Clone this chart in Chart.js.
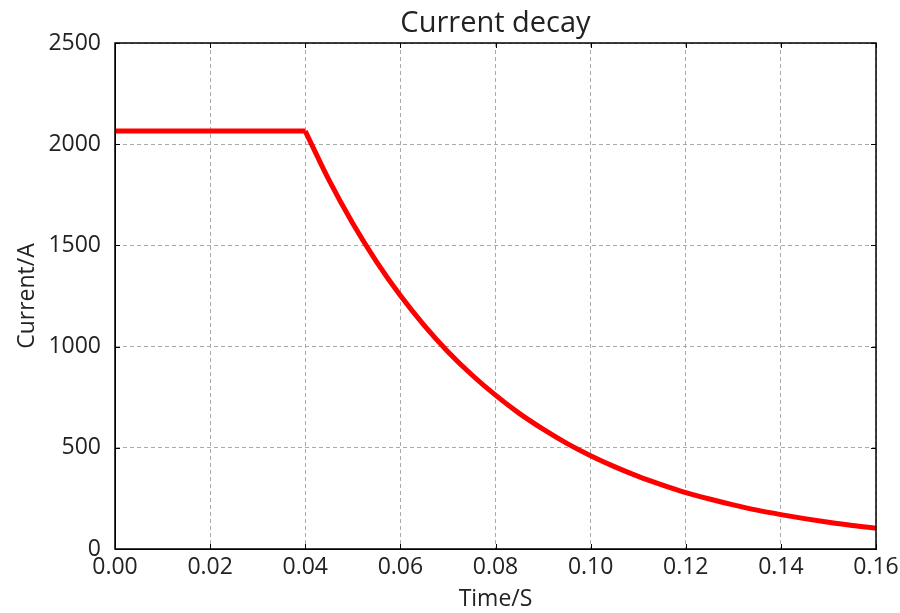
<!DOCTYPE html>
<html>
<head>
<meta charset="utf-8">
<script src="https://cdn.jsdelivr.net/npm/chart.js@4.4.1/dist/chart.umd.min.js"></script>
<style>
  html, body { margin: 0; padding: 0; background: #ffffff; }
  #wrap { width: 900px; height: 613px; }
</style>
</head>
<body>
<div id="wrap"><canvas id="c" width="900" height="613"></canvas></div>
<script>
// Values
const flatTime = [0, 0.01, 0.02, 0.03, 0.04];
const flatCurrent = [2065, 2065, 2065, 2065, 2065];
const decayTime = [0.04, 0.045, 0.05, 0.055, 0.06, 0.065, 0.07, 0.075, 0.08,
  0.085, 0.09, 0.095, 0.10, 0.105, 0.11, 0.115, 0.12, 0.125, 0.13, 0.135, 0.14, 0.145, 0.15, 0.155, 0.16];
const decayCurrent = [2065, 1822, 1608, 1419, 1252, 1105, 975, 861, 760,
  670, 592, 522, 461, 407, 359, 317, 279, 247, 218, 192, 170, 150, 132, 116, 103];
const xTicks = [0, 0.02, 0.04, 0.06, 0.08, 0.10, 0.12, 0.14, 0.16];
const yTicks = [0, 500, 1000, 1500, 2000, 2500];

const titleText = 'Current decay';
const xLabel = 'Time/S';
const yLabel = 'Current/A';

const FONT = '"Open Sans", "DejaVu Sans", sans-serif';
Chart.defaults.font.family = FONT;
Chart.defaults.color = '#222222';

const toPts = (xs, ys) => xs.map((t, i) => ({ x: t, y: ys[i] }));

const frame = {
  id: 'frame',
  afterDraw(chart) {
    const { ctx, chartArea: a, scales } = chart;
    ctx.save();
    ctx.strokeStyle = '#000000';
    ctx.lineWidth = 1;
    const L = 5;
    ctx.beginPath();
    xTicks.forEach(v => {
      const px = Math.round(scales.x.getPixelForValue(v)) + 0.5;
      ctx.moveTo(px, a.bottom); ctx.lineTo(px, a.bottom - L);
      ctx.moveTo(px, a.top); ctx.lineTo(px, a.top + L);
    });
    yTicks.forEach(v => {
      const py = Math.round(scales.y.getPixelForValue(v)) + 0.5;
      ctx.moveTo(a.left, py); ctx.lineTo(a.left + L, py);
      ctx.moveTo(a.right, py); ctx.lineTo(a.right - L, py);
    });
    ctx.stroke();
    ctx.lineWidth = 1.5;
    ctx.strokeRect(a.left, a.top, a.right - a.left, a.bottom - a.top);
    // title centred over the plot area
    ctx.fillStyle = '#222222';
    ctx.font = '29px ' + FONT;
    ctx.textAlign = 'center';
    ctx.textBaseline = 'alphabetic';
    ctx.fillText(titleText, (a.left + a.right) / 2, 32);
    ctx.restore();
  }
};

new Chart(document.getElementById('c'), {
  type: 'line',
  data: {
    datasets: [{
      data: toPts(flatTime, flatCurrent),
      borderColor: '#ff0000',
      borderWidth: 5,
      pointRadius: 0,
      tension: 0,
      fill: false
    }, {
      data: toPts(decayTime, decayCurrent),
      borderColor: '#ff0000',
      borderWidth: 5,
      pointRadius: 0,
      cubicInterpolationMode: 'monotone',
      fill: false
    }]
  },
  options: {
    responsive: false,
    animation: false,
    layout: { padding: { left: 0, right: 24, top: 43, bottom: 0 } },
    plugins: {
      legend: { display: false },
      tooltip: { enabled: false },
      title: { display: false }
    },
    scales: {
      x: {
        type: 'linear',
        min: 0,
        max: 0.16,
        afterFit(s) { s.height = 64; s.paddingLeft = 0; s.paddingRight = 0; },
        afterBuildTicks(s) { s.ticks = xTicks.map(v => ({ value: v })); },
        ticks: {
          padding: 5,
          font: { size: 23 },
          color: '#222222',
          maxRotation: 0,
          autoSkip: false,
          callback: v => v.toFixed(2)
        },
        grid: { color: '#aaaaaa', lineWidth: 1, drawTicks: false },
        border: { display: true, color: '#000000', width: 1, dash: [4, 3] },
        title: {
          display: true,
          text: xLabel,
          color: '#222222',
          font: { size: 23 },
          padding: { top: 0, bottom: 0 }
        }
      },
      y: {
        type: 'linear',
        min: 0,
        max: 2500,
        afterFit(s) { s.width = 115; s.paddingTop = 0; s.paddingBottom = 0; },
        afterBuildTicks(s) { s.ticks = yTicks.map(v => ({ value: v })); },
        ticks: {
          padding: 14,
          font: { size: 23 },
          color: '#222222',
          callback: v => String(v)
        },
        grid: { color: '#aaaaaa', lineWidth: 1, drawTicks: false },
        border: { display: true, color: '#000000', width: 1, dash: [4, 3] },
        title: {
          display: true,
          text: yLabel,
          color: '#222222',
          font: { size: 23 },
          padding: { top: 14 }
        }
      }
    }
  },
  plugins: [frame]
});
</script>
</body>
</html>
